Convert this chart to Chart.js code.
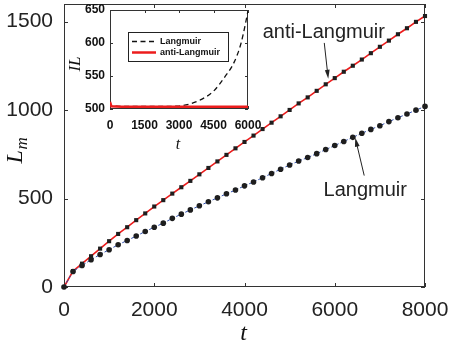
<!DOCTYPE html>
<html>
<head>
<meta charset="utf-8">
<script src="https://cdn.jsdelivr.net/npm/chart.js@4.4.0/dist/chart.umd.min.js"></script>
<style>
  body { margin: 0; background: #fff; }
  #wrap { position: relative; width: 452px; height: 342px; }
  #main-chart { position: absolute; left: 0; top: 0; }
  #inset-chart { position: absolute; left: 56px; top: 2px; }
</style>
</head>
<body>
<div id="wrap">
  <canvas id="main-chart" width="452" height="342"></canvas>
  <canvas id="inset-chart" width="220" height="152"></canvas>
</div>
<script>
// main plot data (t, L_m)
const timeSteps = [0, 200, 400, 600, 800, 1000, 1200, 1400, 1600, 1800, 2000, 2200, 2400, 2600, 2800, 3000,
  3200, 3400, 3600, 3800, 4000, 4200, 4400, 4600, 4800, 5000, 5200, 5400, 5600, 5800, 6000,
  6200, 6400, 6600, 6800, 7000, 7200, 7400, 7600, 7800, 8000];
const langmuirLm = [0, 88, 122, 154, 184, 211, 239, 263, 288, 314, 338, 361, 388, 412, 436, 459,
  482, 504, 527, 548, 572, 594, 618, 642, 666, 690, 712, 732, 754, 777, 800,
  823, 846, 869, 891, 912, 935, 957, 978, 1000, 1021];
const antiLangmuirLm = [0, 90, 132, 174, 217, 259, 300, 338, 378, 416, 455, 491, 528, 564, 600, 637,
  673, 710, 747, 784, 820, 856, 893, 929, 965, 1001, 1038, 1072, 1109, 1146, 1181,
  1217, 1251, 1286, 1322, 1358, 1393, 1429, 1463, 1499, 1532];
const mainXTicks = [0, 2000, 4000, 6000, 8000];
const mainYTicks = [0, 500, 1000, 1500];

// inset data (t, IL)
const insetT = [0, 60, 500, 1000, 1500, 2000, 2500, 3000, 3500, 4000, 4500, 5000, 5400, 5700, 6000];
const insetLangmuir = [511, 505, 504, 504, 504, 504, 504, 504.5, 508, 515, 527, 549, 571, 600, 648];
const insetAnti = [511, 504, 503.5, 503.5, 503.5, 503.5, 503.5, 503.5, 503.5, 503.5, 503.5, 503.5, 503.5, 503.5, 503.5];
const insetXTicks = [0, 1500, 3000, 4500, 6000];
const insetYTicks = [500, 550, 600, 650];

const toPoints = (xs, ys) => xs.map((x, i) => ({ x: x, y: ys[i] }));

// fixed axis size, and no extra room for labels hanging over the ends
const fixSize = (key, px) => s => {
  s[key] = px;
  s.paddingLeft = s.paddingRight = s.paddingTop = s.paddingBottom = 0;
};

// box with inward ticks on all four sides
function frame(tickLen) {
  return {
    id: 'frame',
    beforeDatasetsDraw(chart) {
      const { ctx, chartArea: a, scales } = chart;
      ctx.save();
      ctx.strokeStyle = '#333';
      ctx.lineWidth = 1;
      ctx.strokeRect(a.left + 0.5, a.top + 0.5, a.width - 1, a.height - 1);
      ctx.beginPath();
      scales.x.ticks.forEach(t => {
        const px = Math.round(scales.x.getPixelForValue(t.value)) + 0.5;
        ctx.moveTo(px, a.bottom); ctx.lineTo(px, a.bottom - tickLen);
        ctx.moveTo(px, a.top); ctx.lineTo(px, a.top + tickLen);
      });
      scales.y.ticks.forEach(t => {
        const py = Math.round(scales.y.getPixelForValue(t.value)) + 0.5;
        ctx.moveTo(a.left, py); ctx.lineTo(a.left + tickLen, py);
        ctx.moveTo(a.right, py); ctx.lineTo(a.right - tickLen, py);
      });
      ctx.stroke();
      ctx.restore();
    }
  };
}

function arrow(ctx, x1, y1, x2, y2) {
  const ang = Math.atan2(y2 - y1, x2 - x1);
  const c = Math.cos(ang), s = Math.sin(ang);
  ctx.beginPath();
  ctx.moveTo(x1, y1);
  ctx.lineTo(x2 - 6 * c, y2 - 6 * s);
  ctx.stroke();
  ctx.beginPath();
  ctx.moveTo(x2, y2);
  ctx.lineTo(x2 - 9 * c + 2.4 * s, y2 - 9 * s - 2.4 * c);
  ctx.lineTo(x2 - 9 * c - 2.4 * s, y2 - 9 * s + 2.4 * c);
  ctx.closePath();
  ctx.fill();
}

// labels and arrows, placed in data units
const mainNotes = {
  id: 'mainNotes',
  afterDatasetsDraw(chart) {
    const { ctx, chartArea: a, scales: { x, y } } = chart;
    ctx.save();
    ctx.fillStyle = '#222';
    ctx.strokeStyle = '#222';
    ctx.lineWidth = 1;
    ctx.font = '20px "Liberation Sans", Arial, sans-serif';
    ctx.textAlign = 'center';
    ctx.textBaseline = 'alphabetic';
    ctx.fillText('anti-Langmuir', x.getPixelForValue(5757), y.getPixelForValue(1408));
    ctx.fillText('Langmuir', x.getPixelForValue(6675), y.getPixelForValue(517));
    arrow(ctx, x.getPixelForValue(5768), y.getPixelForValue(1380), x.getPixelForValue(5856), y.getPixelForValue(1177));
    arrow(ctx, x.getPixelForValue(6653), y.getPixelForValue(630), x.getPixelForValue(6454), y.getPixelForValue(844));

    // axis titles
    ctx.fillStyle = '#111';
    ctx.font = 'italic 24px "Liberation Serif", "DejaVu Serif", serif';
    ctx.fillText('t', (a.left + a.right) / 2 - 1, 340);
    ctx.save();
    ctx.translate(22, (a.top + a.bottom) / 2 + 4);
    ctx.rotate(-Math.PI / 2);
    ctx.textAlign = 'left';
    ctx.fillText('L', -14, 0);
    ctx.font = 'italic 17px "Liberation Serif", "DejaVu Serif", serif';
    ctx.fillText('m', 0, 5);
    ctx.restore();
    ctx.restore();
  }
};

const insetNotes = {
  id: 'insetNotes',
  afterDatasetsDraw(chart) {
    const { ctx } = chart;
    ctx.save();
    // legend box
    ctx.fillStyle = '#fff';
    ctx.strokeStyle = '#222';
    ctx.lineWidth = 1;
    ctx.fillRect(72, 30, 100, 29);
    ctx.strokeRect(72.5, 30.5, 100, 29);
    chart.data.datasets.forEach((ds, i) => {
      const ly = 39.5 + i * 11;
      ctx.strokeStyle = ds.borderColor;
      ctx.lineWidth = ds.borderWidth;
      ctx.setLineDash(ds.borderDash || []);
      ctx.beginPath();
      ctx.moveTo(76, ly); ctx.lineTo(100, ly);
      ctx.stroke();
      ctx.setLineDash([]);
      ctx.fillStyle = '#111';
      ctx.font = 'bold 9px "Liberation Sans", Arial, sans-serif';
      ctx.textAlign = 'left';
      ctx.textBaseline = 'middle';
      ctx.fillText(ds.label, 104, ly);
    });
    // axis titles
    ctx.fillStyle = '#111';
    ctx.textAlign = 'center';
    ctx.textBaseline = 'alphabetic';
    ctx.font = 'italic 16px "Liberation Serif", "DejaVu Serif", serif';
    ctx.fillText('t', 122, 147);
    ctx.font = 'italic 17px "Liberation Serif", "DejaVu Serif", serif';
    ctx.translate(24, 62);
    ctx.rotate(-Math.PI / 2);
    ctx.fillText('IL', 0, 0);
    ctx.restore();
  }
};

const tickFont = { family: '"Liberation Sans", Arial, sans-serif', size: 21 };
const insetFont = { family: '"Liberation Sans", Arial, sans-serif', size: 12, weight: 'bold' };
const plain = v => String(v);
const noGrid = { display: false, drawTicks: false };

new Chart(document.getElementById('main-chart'), {
  type: 'line',
  data: {
    datasets: [{
      label: 'Langmuir',
      data: toPoints(timeSteps, langmuirLm),
      borderColor: '#2f4fb0',
      borderWidth: 1,
      borderDash: [3, 2],
      pointStyle: 'circle',
      pointRadius: 2.8,
      pointBackgroundColor: '#1e1e1e',
      pointBorderWidth: 0,
      clip: false
    }, {
      label: 'anti-Langmuir',
      data: toPoints(timeSteps, antiLangmuirLm),
      borderColor: '#ec1c1c',
      borderWidth: 1.6,
      pointStyle: 'rect',
      pointRadius: 2.9,
      pointBackgroundColor: '#1e1e1e',
      pointBorderWidth: 0,
      clip: false
    }]
  },
  options: {
    responsive: false,
    animation: false,
    layout: { padding: { left: 0, right: 27, top: 3, bottom: 0 } },
    scales: {
      x: {
        type: 'linear',
        min: 0,
        max: 8000,
        grid: noGrid,
        border: { display: false },
        afterBuildTicks: s => { s.ticks = mainXTicks.map(v => ({ value: v })); },
        afterFit: fixSize('height', 55),
        ticks: { font: tickFont, color: '#222', padding: 11, maxRotation: 0, autoSkip: false, callback: plain }
      },
      y: {
        min: 0,
        max: 1600,
        grid: noGrid,
        border: { display: false },
        afterBuildTicks: s => { s.ticks = mainYTicks.map(v => ({ value: v })); },
        afterFit: fixSize('width', 64),
        ticks: { font: tickFont, color: '#222', padding: 11, autoSkip: false, callback: plain }
      }
    },
    plugins: { legend: { display: false }, tooltip: { enabled: false } }
  },
  plugins: [frame(4), mainNotes]
});

new Chart(document.getElementById('inset-chart'), {
  type: 'line',
  data: {
    datasets: [{
      label: 'Langmuir',
      data: toPoints(insetT, insetLangmuir),
      borderColor: '#111',
      borderWidth: 1.3,
      borderDash: [5, 3.5],
      cubicInterpolationMode: 'monotone',
      pointRadius: 0,
      order: 1
    }, {
      label: 'anti-Langmuir',
      data: toPoints(insetT, insetAnti),
      borderColor: '#ec1c1c',
      borderWidth: 2.5,
      pointRadius: 0,
      order: 0
    }]
  },
  options: {
    responsive: false,
    animation: false,
    layout: { padding: { left: 0, right: 28, top: 8, bottom: 0 } },
    scales: {
      x: {
        type: 'linear',
        min: 0,
        max: 6000,
        grid: noGrid,
        border: { display: false },
        afterBuildTicks: s => { s.ticks = insetXTicks.map(v => ({ value: v })); },
        afterFit: fixSize('height', 45),
        ticks: { font: insetFont, color: '#111', padding: 9, maxRotation: 0, autoSkip: false, callback: plain }
      },
      y: {
        min: 500,
        max: 650,
        grid: noGrid,
        border: { display: false },
        afterBuildTicks: s => { s.ticks = insetYTicks.map(v => ({ value: v })); },
        afterFit: fixSize('width', 54),
        ticks: { font: insetFont, color: '#111', padding: 5, autoSkip: false, callback: plain }
      }
    },
    plugins: { legend: { display: false }, tooltip: { enabled: false } }
  },
  plugins: [frame(3), insetNotes]
});
</script>
</body>
</html>
